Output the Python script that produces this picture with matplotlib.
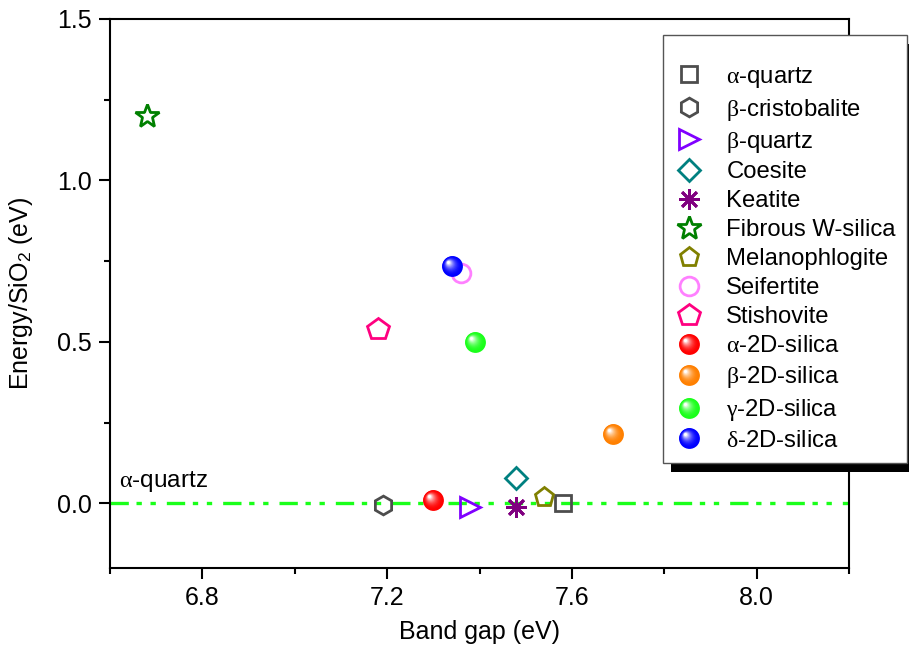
import numpy as np
import matplotlib
matplotlib.use("Agg")
import matplotlib.pyplot as plt
from matplotlib.path import Path
from matplotlib.lines import Line2D
from matplotlib.patches import Rectangle
from matplotlib.legend_handler import HandlerTuple
from matplotlib.colors import to_rgb

plt.rcParams['font.family'] = ['Liberation Sans', 'DejaVu Sans']
plt.rcParams['mathtext.fontset'] = 'custom'
plt.rcParams['mathtext.rm'] = 'Liberation Sans'
plt.rcParams['mathtext.it'] = 'Liberation Serif'

# open-marker structures: label, x (band gap eV), y (energy eV), marker, color, size
open_labels = [r'$\alpha$-quartz', r'$\beta$-cristobalite', r'$\beta$-quartz', 'Coesite',
               'Keatite', 'Fibrous W-silica', 'Melanophlogite', 'Seifertite', 'Stishovite']
open_x = [7.58, 7.19, 7.38, 7.48, 7.48, 6.68, 7.54, 7.36, 7.18]
open_y = [0.0, -0.005, -0.01, 0.08, -0.01, 1.20, 0.02, 0.715, 0.54]
open_markers = ['s', 'h', '>', 'D', (8, 2, 0), '*', 'p', 'o', 'p']
open_colors = ['#4d4d4d', '#4d4d4d', '#8000ff', '#008080', '#800080', '#008000',
               '#808000', '#ff80ff', '#ff0080']
open_sizes = [11, 13.5, 14, 11.5, 15, 18, 14, 13.5, 16]

# 2D silica (ball markers)
ball_labels = [r'$\alpha$-2D-silica', r'$\beta$-2D-silica', r'$\gamma$-2D-silica', r'$\delta$-2D-silica']
ball_x = [7.30, 7.69, 7.39, 7.34]
ball_y = [0.01, 0.215, 0.50, 0.735]
ball_colors = ['#ff0000', '#ff8000', '#1aff1a', '#0000ff']

ref_label = r'$\alpha$-quartz'


def ball_layers(color, n=14):
    # shaded sphere made from stacked offset circles
    base = np.array(to_rgb(color))
    out = []
    box = Path([(-1, -1), (1, 1)], [Path.MOVETO, Path.MOVETO])
    for k in range(n):
        t = k / (n - 1)
        r = 1.0 - 0.86 * t
        c = (-0.38 * t, 0.38 * t)
        circ = Path.circle(c, r)
        p = Path.make_compound_path(box, circ)
        col = base + (1 - base) * t ** 2.2
        out.append((p, tuple(np.clip(col, 0, 1))))
    return out


fig = plt.figure(figsize=(9.09, 6.5), dpi=100)
ax = fig.add_axes([110 / 909, 1 - 568 / 650, 739 / 909, 549 / 650])

ax.plot([6.6, 8.2], [0, 0], color='#1aff1a', lw=2.4,
        ls=(0, (5.5, 2.3, 1.6, 2.6, 1.6, 3.3)), zorder=1)

handles = []
for lab, x, y, m, c, s in zip(open_labels, open_x, open_y, open_markers, open_colors, open_sizes):
    h, = ax.plot([x], [y], ls='none', marker=m, ms=s, mfc='none', mec=c, mew=2.0,
                 label=lab, zorder=3)
    handles.append(h)

for lab, x, y, c in zip(ball_labels, ball_x, ball_y, ball_colors):
    parts = []
    for p, col in ball_layers(c):
        ax.plot([x], [y], ls='none', marker=p, ms=15, mfc=col, mec='none', zorder=4)
        parts.append(Line2D([], [], ls='none', marker=p, ms=15, mfc=col, mec='none'))
    handles.append(tuple(parts))

labels = open_labels + ball_labels

ax.text(6.62, 0.03, ref_label, fontsize=17.5, ha='left', va='bottom')

ax.set_xlim(6.6, 8.2)
ax.set_ylim(-0.2, 1.5)
ax.set_xticks([6.8, 7.2, 7.6, 8.0])
ax.set_xticks([6.6, 7.0, 7.4, 7.8, 8.2], minor=True)
ax.set_yticks([0.0, 0.5, 1.0, 1.5])
ax.set_yticks([-0.25, 0.25, 0.75, 1.25], minor=True)
ax.set_ylim(-0.2, 1.5)
ax.set_xticklabels(['6.8', '7.2', '7.6', '8.0'])
ax.set_yticklabels(['0.0', '0.5', '1.0', '1.5'])
ax.tick_params(which='major', direction='out', length=8, width=1.5, labelsize=18, pad=5)
ax.tick_params(which='minor', direction='out', length=4.5, width=1.5)
for sp in ax.spines.values():
    sp.set_linewidth(1.5)

ax.set_xlabel('Band gap (eV)', fontsize=18, labelpad=7)
ax.set_ylabel(r'Energy/SiO$_2$ (eV)', fontsize=18)
ax.yaxis.set_label_coords((35 - 110) / 739, 0.5)

leg = fig.legend(handles, labels, loc='upper left', bbox_to_anchor=(663 / 909, 1 - 35 / 650),
                 borderaxespad=0, fontsize=17.2, frameon=True, fancybox=False,
                 edgecolor='#555555', framealpha=1, labelspacing=0.29, handlelength=1.3,
                 handletextpad=0.9, borderpad=0.45, title=' ', title_fontsize=9,
                 handler_map={tuple: HandlerTuple(ndivide=1, pad=0)})
leg.get_frame().set_linewidth(1.0)
leg.set_zorder(6)

fig.canvas.draw()
bb = leg.get_window_extent()
shadow = Rectangle((bb.x0 + 8, bb.y0 - 9), bb.width, bb.height, transform=None,
                   facecolor='black', edgecolor='none', zorder=5)
fig.patches.append(shadow)
shadow.set_figure(fig)

fig.savefig('out.png', dpi=100)
